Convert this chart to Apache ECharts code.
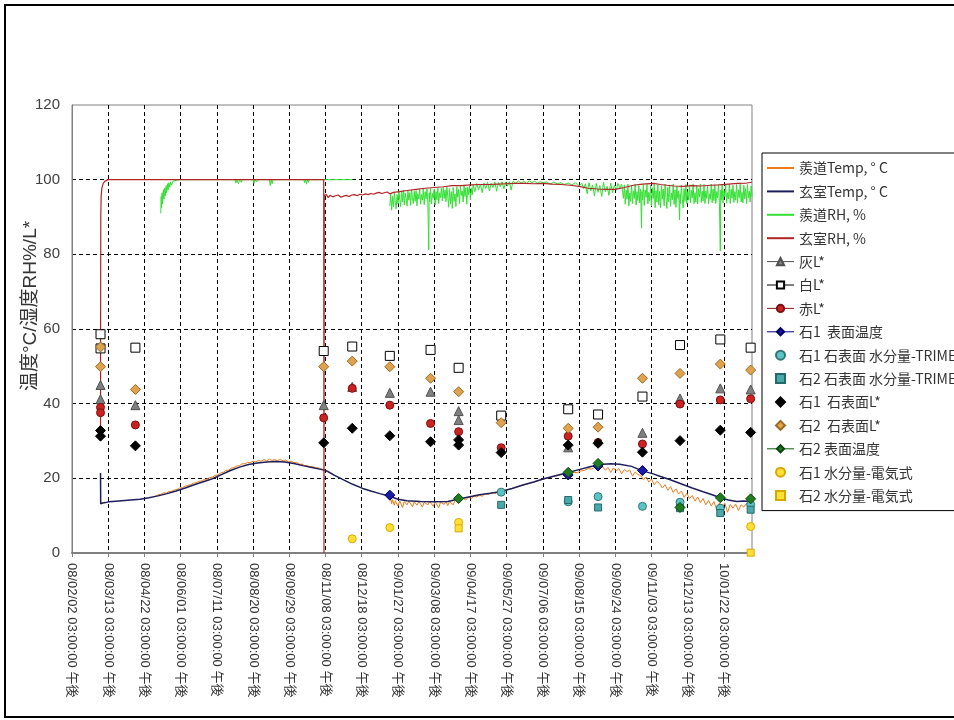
<!DOCTYPE html>
<html><head><meta charset="utf-8">
<script src="https://cdn.jsdelivr.net/npm/echarts@6/dist/echarts.min.js"></script>
<style>html,body{margin:0;padding:0;background:#fff}#c{width:954px;height:720px}</style>
</head><body><div id="c"></div>
<script>
// x values are days since 08/02/02 03:00:00 PM
const tickLabels = ["08/02/02 03:00:00 午後","08/03/13 03:00:00 午後","08/04/22 03:00:00 午後","08/06/01 03:00:00 午後","08/07/11 03:00:00 午後","08/08/20 03:00:00 午後","08/09/29 03:00:00 午後","08/11/08 03:00:00 午後","08/12/18 03:00:00 午後","09/01/27 03:00:00 午後","09/03/08 03:00:00 午後","09/04/17 03:00:00 午後","09/05/27 03:00:00 午後","09/07/06 03:00:00 午後","09/08/15 03:00:00 午後","09/09/24 03:00:00 午後","09/11/03 03:00:00 午後","09/12/13 03:00:00 午後","10/01/22 03:00:00 午後"];
const seriesNames = ["羨道Temp, ° C","玄室Temp, ° C","羨道RH, %","玄室RH, %","灰L*","白L*","赤L*","石1  表面温度","石1 石表面 水分量-TRIME","石2 石表面 水分量-TRIME","石1  石表面L*","石2  石表面L*","石2 表面温度","石1 水分量-電気式","石2 水分量-電気式"];

const sendoTemp = [[92,15.2],[95,15.6],[98,15.7],[101,16.1],[104,16.0],[107,16.5],[110,16.5],[113,16.9],[116,17.0],[119,17.4],[122,17.5],[125,17.9],[128,18.1],[131,18.3],[134,18.7],[137,18.8],[140,19.2],[143,19.3],[146,19.7],[149,19.8],[152,20.2],[155,20.3],[158,20.8],[161,20.9],[164,21.4],[167,21.6],[170,22.1],[173,22.2],[176,22.7],[179,22.9],[182,23.3],[185,23.4],[188,23.9],[191,23.9],[194,24.3],[197,24.2],[200,24.6],[203,24.4],[206,24.8],[209,24.6],[212,25.0],[215,24.7],[218,25.1],[221,24.8],[224,25.0],[227,24.7],[230,25.1],[233,24.7],[236,24.9],[239,24.4],[242,24.6],[245,24.2],[248,24.3],[251,23.8],[254,23.8],[257,23.4],[260,23.4],[263,23.1],[266,23.1],[269,22.8],[272,22.8],[275,22.5],[278,22.4],[280,22.1],[281,null],
[352,14.6],[353,13.2],[354,14.3],[356,12.8],[357,14.0],[359,13.5],[360,12.6],[362,13.9],[364,13.4],[365,12.2],[367,13.8],[369,13.3],[370,12.9],[372,13.9],[374,13.2],[376,12.4],[378,13.7],[380,13.4],[381,12.8],[383,13.8],[385,13.1],[387,12.3],[389,13.6],[391,13.5],[393,12.9],[395,13.8],[397,13.2],[399,12.5],[401,13.7],[403,13.4],[405,12.1],[407,13.6],[409,13.6],[411,13.0],[413,13.9],[415,12.7],[417,13.8],[419,13.5],[421,12.9],[423,14.0],[426,14.3],[429,13.9],[432,14.6],[435,14.2],[438,15.0],[441,14.6],[444,15.3],[447,15.0],[450,15.5],[453,15.2],[456,15.9],[460,15.7],[464,16.2],[468,16.0],[472,16.5],[476,16.6],[480,16.9],[485,17.2],[490,17.6],[495,18.0],[500,18.3],[505,18.7],[510,19.0],[515,19.4],[520,19.7],[525,20.1],[530,20.4],[535,20.7],[540,21.0],[545,21.3],[550,21.2],[554,21.6],[558,21.5],[562,22.0],[566,22.1],[570,22.6],[574,22.5],[578,23.0],[582,22.8],[586,23.1],[589,22.2],[592,22.9],[595,21.6],[598,22.8],[601,22.0],[604,22.6],[607,21.2],[610,22.4],[613,21.8],[616,22.2],[619,20.6],[622,21.7],[625,21.0],[628,20.8],[631,19.6],[634,20.4],[637,19.0],[640,19.8],[643,18.3],[646,19.2],[649,18.6],[652,17.4],[655,18.3],[658,16.8],[661,17.8],[664,16.2],[667,17.2],[670,15.8],[673,16.6],[676,14.9],[679,16.0],[682,14.6],[685,15.4],[688,13.9],[691,15.0],[694,13.5],[697,14.6],[700,12.9],[703,14.1],[706,12.6],[709,13.8],[712,11.6],[715,13.4],[718,12.2],[721,13.3],[724,10.9],[727,13.0],[730,12.0],[733,13.1],[736,11.4],[739,12.9],[742,12.3],[745,13.3],[748,12.5],[751,13.0]];

const genshitsuTemp = [[31.5,21.4],[31.7,13.2],[34,13.4],[37,13.5],[40,13.7],[45,13.8],[55,14.0],[65,14.2],[75,14.4],[85,14.8],[95,15.3],[105,15.9],[115,16.6],[125,17.4],[135,18.3],[145,19.1],[155,19.9],[165,21.0],[175,22.1],[185,23.0],[195,23.7],[205,24.1],[215,24.4],[225,24.5],[235,24.4],[245,24.0],[255,23.4],[265,22.9],[275,22.4],[282,21.9],[290,20.8],[300,19.6],[310,18.4],[321,17.3],[330,16.6],[340,15.9],[351,15.2],[360,14.4],[370,14.0],[385,13.8],[400,13.7],[415,13.8],[426,14.4],[438,15.0],[450,15.6],[462,16.0],[474,16.5],[486,17.3],[498,18.2],[510,19.0],[520,19.8],[534,20.7],[547,21.5],[561,22.4],[572,23.1],[583,23.7],[595,23.9],[605,23.8],[618,23.2],[630,22.0],[642,21.2],[650,20.5],[660,19.7],[671,18.7],[685,17.4],[697,16.4],[707,15.6],[716,14.8],[725,14.2],[734,13.8],[742,13.9],[751,13.7]];

const sendoRH = [[98,91.0],[98.5,95.5],[99,92.5],[99.5,96.5],[100,93.5],[101,97.3],[101.5,94.8],[102.5,97.8],[103,95.6],[104,98.4],[104.5,96.5],[105.5,98.9],[106,97.2],[107,99.2],[108,98.0],[109,99.4],[110,98.6],[111.5,99.6],[113,99.2],[115,99.8],[117,99.6],[119,100],[180,100],[181,99.1],[182,100],[184,98.9],[185,100],[187,99.3],[188,100],[200,100],[201,99.0],[202,100],[204,99.4],[205,100],[218,100],[219,98.4],[220,100],[221,98.9],[222,100],[256,100],[257,99.2],[258,100],[259,98.8],[260,100],[261,99.3],[262,100],[310,100],[311,null],
[351,93.0],[352,96.2],[353,91.8],[354,95.5],[355,92.8],[356,96.6],[357,94.0],[358,92.2],[359,96.0],[360,93.5],[361,97.0],[362,94.6],[363,92.8],[364,96.8],[365,94.0],[366,97.2],[367,93.2],[368,96.4],[369,95.0],[370,92.9],[371,97.0],[372,94.5],[373,96.5],[374,93.1],[375,97.3],[376,95.2],[377,93.6],[378,96.9],[379,94.2],[380,97.1],[381,93.0],[382,96.2],[383,94.8],[384,97.4],[385,93.4],[386,96.0],[387,94.5],[388,97.5],[389,93.3],[390,96.8],[391,94.9],[392,97.6],[393,93.8],[394,81.2],[394.5,96.5],[395,94.0],[396,97.7],[397,93.5],[398,96.3],[399,95.0],[400,97.5],[401,93.2],[402,96.8],[403,94.6],[404,97.8],[405,93.6],[406,96.5],[407,95.2],[408,97.7],[409,94.3],[410,97.9],[411,95.0],[412,97.2],[413,94.1],[414,98.0],[415,95.5],[416,92.6],[417,97.6],[418,93.5],[419,96.8],[420,92.3],[421,97.9],[422,94.2],[423,96.2],[424,92.8],[425,98.1],[426,95.3],[427,97.4],[428,93.6],[429,98.2],[430,95.8],[431,97.0],[432,94.0],[433,98.3],[434,95.5],[435,97.8],[436,93.4],[437,98.0],[438,96.0],[439,98.4],[440,94.6],[441,97.7],[442,95.9],[443,98.6],[445,96.8],[447,99.0],[449,97.2],[451,98.8],[453,96.5],[455,99.1],[457,97.6],[459,99.3],[461,97.0],[463,99.0],[465,97.9],[467,99.4],[469,96.9],[471,99.2],[473,98.1],[475,99.5],[477,97.5],[479,99.3],[481,98.3],[483,99.5],[485,97.2],[487,99.6],[490,99.0],[493,99.7],[496,99.1],[499,99.6],[502,98.9],[505,99.7],[508,99.2],[511,99.6],[514,99.0],[517,99.5],[520,99.2],[524,99.4],[528,98.8],[532,99.3],[536,98.9],[540,99.2],[544,98.7],[548,99.1],[552,98.6],[556,99.2],[560,98.4],[563,99.0],[565,97.6],[567,98.9],[569,96.2],[571,99.2],[573,97.0],[575,98.6],[577,95.6],[579,99.0],[581,96.6],[583,98.4],[585,95.5],[587,99.3],[589,96.8],[591,98.2],[593,95.8],[595,99.1],[597,96.5],[599,98.5],[601,97.2],[603,99.0],[605,97.8],[607,98.8],[609,95.0],[610,98.6],[611,93.4],[612,97.2],[613,94.8],[614,98.8],[615,93.0],[616,96.4],[617,94.2],[618,98.5],[619,93.6],[620,97.0],[621,95.0],[622,98.8],[623,93.2],[624,96.8],[625,94.4],[626,98.4],[627,93.8],[628,97.4],[629,87.0],[629.5,96.8],[630,94.6],[631,98.7],[632,93.1],[633,97.2],[634,95.3],[635,98.8],[636,93.5],[637,96.6],[638,94.2],[639,98.5],[640,93.0],[641,97.8],[642,95.0],[643,98.8],[644,92.5],[645,97.1],[646,94.0],[647,98.6],[648,93.2],[649,96.9],[650,92.4],[651,98.4],[652,94.8],[653,97.5],[654,93.0],[655,98.8],[656,95.2],[657,92.3],[658,97.9],[659,94.1],[660,98.6],[661,92.8],[662,96.4],[663,94.6],[664,98.8],[665,93.4],[666,97.3],[667,92.6],[668,98.2],[669,95.0],[670,97.0],[671,89.2],[671.5,96.2],[672,93.6],[673,98.5],[674,94.9],[675,92.4],[676,97.6],[677,94.2],[678,98.7],[679,93.5],[680,96.8],[681,94.5],[682,98.6],[683,93.8],[684,97.2],[685,95.1],[686,98.8],[687,93.6],[688,96.5],[689,94.0],[690,98.4],[691,93.5],[692,97.6],[693,95.4],[694,98.8],[695,93.9],[696,96.9],[697,94.3],[698,98.7],[699,93.6],[700,97.0],[701,95.0],[702,98.5],[703,93.5],[704,96.2],[705,94.7],[706,98.8],[707,93.8],[708,97.5],[709,94.4],[710,98.6],[711,93.6],[712,96.8],[713,95.1],[714,98.7],[715,93.9],[716,80.9],[716.5,97.2],[717,94.6],[718,98.8],[719,93.8],[720,97.1],[721,95.4],[722,98.6],[723,93.7],[724,96.5],[725,94.8],[726,98.8],[727,93.6],[728,97.4],[729,95.0],[730,98.5],[731,93.9],[732,96.8],[733,94.5],[734,98.7],[735,93.7],[736,97.3],[737,95.2],[738,98.8],[739,94.0],[740,96.6],[741,93.8],[742,98.5],[743,94.9],[744,97.6],[745,93.6],[746,98.7],[747,95.1],[748,96.9],[749,94.0],[750,98.3],[751,95.5]];

const genshitsuRH = [[31.5,31.0],[31.6,60],[31.8,90],[32.2,95.5],[33,97.8],[34.5,99.0],[36.5,99.6],[40,100],[278,100],[278.3,0],[278.6,95.8],[281,96.0],[283,95.2],[285,95.8],[288,95.4],[291,95.7],[294,95.9],[297,95.3],[300,95.6],[303,95.8],[306,95.5],[309,95.9],[312,96.0],[315,95.7],[318,96.1],[321,95.9],[324,96.2],[327,96.0],[330,96.3],[333,96.1],[336,96.4],[339,96.6],[342,96.3],[345,96.5],[348,96.7],[351,96.2],[355,96.6],[362,96.8],[370,97.1],[380,97.4],[390,97.7],[400,97.9],[410,98.1],[420,98.4],[430,98.4],[440,98.6],[450,98.7],[460,98.7],[470,98.8],[480,98.9],[490,99.0],[500,99.0],[510,98.9],[520,99.0],[530,98.8],[540,98.7],[550,98.5],[560,98.2],[570,97.7],[580,97.5],[590,97.4],[600,97.4],[610,97.9],[620,98.5],[630,98.8],[642,99.0],[650,98.7],[657,98.5],[665,98.3],[675,98.2],[685,98.4],[695,98.3],[705,98.5],[715,98.6],[725,98.8],[735,99.0],[745,99.1],[751,99.3]];

const grayL = [[31.5,45.0],[31.5,41.2],[70,39.6],[278,39.6],[309.5,44.5],[351,42.9],[396,43.2],[427,38.0],[427,35.6],[548,28.3],[630,32.2],[671.5,41.4],[716,44.1],[749.5,43.8]];
const whiteL = [[31.5,58.6],[31.5,54.8],[70,55.0],[278,54.1],[309.5,55.3],[351,52.8],[396,54.4],[427,49.6],[474,36.8],[548,38.5],[581,37.1],[630,41.9],[671.5,55.7],[716,57.2],[749.5,55.0]];
const redL = [[31.5,39.0],[31.5,37.6],[70,34.3],[278,36.2],[309.5,44.1],[351,39.6],[396,34.7],[427,32.5],[474,28.2],[548,31.3],[581,29.6],[630,29.2],[671.5,39.9],[716,41.0],[749.5,41.3]];
const stone1SurfTemp = [[351,15.5],[548,20.9],[581,23.3],[630,22.1]];
const stone1Trime = [[474,16.3],[548,13.7],[581,15.1],[630,12.5],[671.5,13.6],[716,12.0],[749.5,13.0]];
const stone2Trime = [[474,12.9],[548,14.2],[581,12.2],[671.5,12.0],[716,10.7],[749.5,11.6]];
const stone1L = [[31.5,32.8],[31.5,31.3],[70,28.7],[278,29.5],[309.5,33.4],[351,31.4],[396,29.8],[427,30.3],[427,28.9],[474,26.9],[548,28.9],[581,29.4],[630,27.0],[671.5,30.1],[716,32.9],[749.5,32.3]];
const stone2L = [[31.5,55.2],[31.5,49.9],[70,43.8],[278,49.9],[309.5,51.4],[351,49.9],[396,46.8],[427,43.2],[474,34.9],[548,33.4],[581,33.7],[630,46.8],[671.5,48.1],[716,50.6],[749.5,49.0]];
const stone2SurfTemp = [[427,14.6],[548,21.6],[581,24.0],[671.5,12.2],[716,14.8],[749.5,14.5]];
const stone1Elec = [[309.5,3.8],[351,6.8],[427,8.2],[749.5,7.1]];
const stone2Elec = [[427,6.6],[749.5,0.1]];

const CJK = '"Noto Sans CJK JP", sans-serif';
const LAT = '"Liberation Sans", "Noto Sans CJK JP", sans-serif';
const SQUARE_ICON = 'path://M0,0L10,0L10,10L0,10Z';
const DIAMOND_ICON = 'path://M5,0L10,5L5,10L0,5Z';

function lineSeries(name, data, color, width) {
  return {name, type:'line', data, symbol:'none', showSymbol:false, connectNulls:false,
    lineStyle:{color, width}, itemStyle:{color}, animation:false, silent:true};
}
function markerLine(name, data, symbol, size, fill, border) {
  return {name, type:'line', data, symbol, symbolSize:size, showSymbol:true,
    lineStyle:{opacity:0, color:border}, itemStyle:{color:fill, borderColor:border, borderWidth:1},
    animation:false, silent:true, z:3};
}
function markerScatter(name, data, symbol, size, fill, border) {
  return {name, type:'scatter', data, symbol, symbolSize:size,
    itemStyle:{color:fill, borderColor:border, borderWidth:1, opacity:1}, animation:false, silent:true, z:3};
}

const series = [
  lineSeries(seriesNames[0], sendoTemp, '#EE7A1C', 1),
  lineSeries(seriesNames[1], genshitsuTemp, '#1E1E5C', 1.5),
  lineSeries(seriesNames[2], sendoRH, '#33E033', 1),
  lineSeries(seriesNames[3], genshitsuRH, '#B22424', 1.2),
  markerLine(seriesNames[4], grayL, 'triangle', 9, '#808080', '#505050'),
  markerLine(seriesNames[5], whiteL, 'rect', 9, '#FFFFFF', '#000000'),
  markerLine(seriesNames[6], redL, 'circle', 8, '#CC2222', '#7A1010'),
  markerLine(seriesNames[7], stone1SurfTemp, 'diamond', 10, '#1A1AA8', '#000060'),
  markerScatter(seriesNames[8], stone1Trime, 'circle', 8, '#5CC4C4', '#2F7777'),
  markerScatter(seriesNames[9], stone2Trime, 'rect', 7, '#4AA8A8', '#256A6A'),
  markerScatter(seriesNames[10], stone1L, 'diamond', 10, '#000000', '#000000'),
  markerScatter(seriesNames[11], stone2L, 'diamond', 10, '#E0A24E', '#9A6A22'),
  markerLine(seriesNames[12], stone2SurfTemp, 'diamond', 10, '#1E7D1E', '#0D470D'),
  markerScatter(seriesNames[13], stone1Elec, 'circle', 8, '#FFE034', '#D8A800'),
  markerScatter(seriesNames[14], stone2Elec, 'rect', 7, '#FFE034', '#D8A800')
];

const legendLineColors = {4:'#505050',5:'#000000',6:'#8B1A1A',7:'#000080',12:'#0D5A0D'};
const legendIcons = {9:SQUARE_ICON, 10:DIAMOND_ICON, 11:DIAMOND_ICON, 14:SQUARE_ICON};
const legendData = seriesNames.map((n, i) => {
  if (i < 4) return {name:n, itemStyle:{opacity:0, borderWidth:0}};
  if (legendLineColors[i]) return {name:n, lineStyle:{opacity:1, width:1, color:legendLineColors[i]}};
  if (legendIcons[i]) return {name:n, icon:legendIcons[i]};
  return {name:n};
});

const chart = echarts.init(document.getElementById('c'), null, {renderer:'canvas'});
chart.setOption({
  backgroundColor:'#ffffff',
  animation:false,
  grid:{left:72, right:202, top:105, bottom:167, show:true, borderColor:'#808080', borderWidth:1, backgroundColor:'transparent'},
  xAxis:{type:'value', min:0, max:751, interval:40,
    axisLine:{show:true, onZero:false, lineStyle:{color:'#808080', width:2}},
    axisTick:{show:true, length:4, lineStyle:{color:'#808080'}},
    axisLabel:{rotate:-90, margin:10, fontSize:13, color:'#333', fontFamily:LAT, showMaxLabel:false,
      formatter:v => (v % 40 === 0 && v / 40 < tickLabels.length) ? tickLabels[v / 40] : ''},
    splitLine:{show:true, showMinLine:false, showMaxLine:false, lineStyle:{type:[4,3], color:'#000', width:1}}},
  yAxis:{type:'value', min:0, max:120, interval:20,
    name:'温度°C/湿度RH%/L*', nameLocation:'middle', nameGap:32, nameMoveOverlap:false,
    nameTextStyle:{fontSize:19, color:'#333', fontFamily:LAT, padding:[0,0,0,46]},
    axisLine:{show:true, lineStyle:{color:'#808080'}},
    axisTick:{show:false},
    axisLabel:{fontSize:15, color:'#404040', margin:12, fontFamily:LAT},
    splitLine:{show:true, showMinLine:false, showMaxLine:false, lineStyle:{type:[4,3], color:'#000', width:1}}},
  legend:{orient:'vertical', left:762, top:153, padding:[8,6,8,4], itemWidth:27, itemHeight:9, itemGap:9.4,
    backgroundColor:'#fff', borderColor:'#000', borderWidth:1, selectedMode:false, symbolKeepAspect:true,
    textStyle:{fontSize:14, lineHeight:14, color:'#333', fontFamily:CJK}, data:legendData},
  graphic:[{type:'rect', shape:{x:5, y:5, width:1000, height:712}, style:{fill:null, stroke:'#000', lineWidth:2}, silent:true, z:100}],
  series
});
</script></body></html>
